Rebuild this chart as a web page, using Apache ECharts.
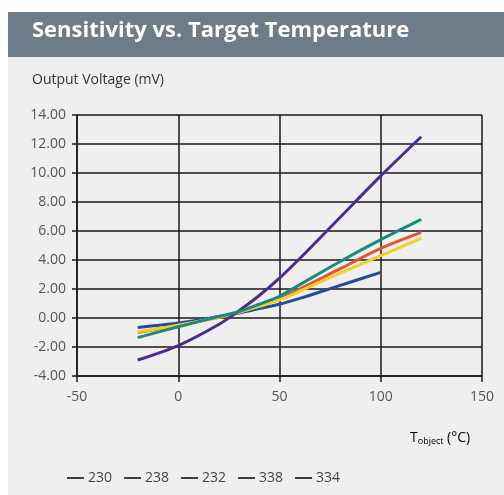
<!DOCTYPE html>
<html><head><meta charset="utf-8">
<script src="https://cdn.jsdelivr.net/npm/echarts@6/dist/echarts.min.js"></script>
<style>html,body{margin:0;padding:0;background:#fff}#c{width:504px;height:495px}</style>
</head><body><div id="c"></div>
<script>
const temps = [-20, 0, 20, 30, 40, 50, 60, 80, 100, 120];
const s230 = [-0.65, -0.35, 0.1, 0.35, 0.65, 0.95, 1.35, 2.25, 3.15, null];
const s238 = [-1.0, -0.5, 0.05, 0.4, 0.85, 1.35, 2.0, 3.4, 4.8, 5.9];
const s232 = [-0.95, -0.5, 0.05, 0.4, 0.8, 1.25, 1.85, 3.1, 4.3, 5.5];
const s338 = [-2.9, -1.9, -0.45, 0.5, 1.55, 2.75, 4.1, 6.95, 9.8, 12.5];
const s334 = [-1.35, -0.6, 0.1, 0.45, 0.95, 1.5, 2.3, 3.9, 5.4, 6.8];
const seriesNames = ['230', '238', '232', '338', '334'];
const seriesColors = ['#1f4f9c', '#e2572b', '#f2cf2a', '#4e2c8c', '#1a8a7c'];
const seriesData = [s230, s238, s232, s338, s334];

const font = "'Open Sans', 'Liberation Sans', sans-serif";
const chart = echarts.init(document.getElementById('c'));
chart.setOption({
  backgroundColor: '#ffffff',
  animation: false,
  graphic: [
    {type: 'rect', shape: {x: 8, y: 57, width: 496, height: 438}, style: {fill: '#efefef'}, z: -10},
    {type: 'rect', shape: {x: 8, y: 12, width: 496, height: 45}, style: {fill: '#6e7b88'}, z: -10},
    {type: 'text', left: 32, top: 20, style: {text: 'Sensitivity vs. Target Temperature', fill: '#ffffff', font: "bold 22px " + font}},
    {type: 'text', left: 32, top: 73, style: {text: 'Output Voltage (mV)', fill: '#333333', font: "14px " + font}},
    {type: 'text', left: 410, top: 431, style: {
      text: '{a|T}{b|object}{a| (°C)}',
      rich: {a: {fontSize: 14, fontFamily: font, color: '#333333'},
             b: {fontSize: 9, fontFamily: font, color: '#333333', padding: [6, 0, 0, 0]}}
    }}
  ],
  legend: {
    left: 62, top: 466,
    itemWidth: 17, itemHeight: 2, itemGap: 12,
    icon: 'rect',
    textStyle: {fontFamily: font, fontSize: 14, color: '#444444', padding: [0, 0, 0, -1]},
    data: seriesNames.map(n => ({name: n, itemStyle: {color: '#3a3f46'}}))
  },
  grid: {left: 77, right: 22, top: 115, bottom: 119},
  xAxis: {
    type: 'value', min: -50, max: 150, interval: 50,
    axisLine: {show: true, onZero: false, lineStyle: {color: '#1a1a1a', width: 1.5}},
    axisTick: {show: true, length: 6, lineStyle: {color: '#1a1a1a', width: 1.5}},
    splitLine: {show: true, lineStyle: {color: '#1a1a1a', width: 1.5}},
    axisLabel: {color: '#555555', fontFamily: font, fontSize: 14, margin: 14}
  },
  yAxis: {
    type: 'value', min: -4, max: 14, interval: 2,
    axisLine: {show: true, onZero: false, lineStyle: {color: '#1a1a1a', width: 1.5}},
    axisTick: {show: true, length: 5, lineStyle: {color: '#1a1a1a', width: 1.5}},
    splitLine: {show: true, lineStyle: {color: '#1a1a1a', width: 1.5}},
    axisLabel: {color: '#555555', fontFamily: font, fontSize: 14, margin: 11, formatter: v => v.toFixed(2)}
  },
  series: seriesNames.map((n, i) => ({
    name: n, type: 'line', smooth: 0.3, showSymbol: false,
    color: seriesColors[i],
    lineStyle: {width: 3, color: seriesColors[i]},
    data: temps.map((t, k) => seriesData[i][k] == null ? null : [t, seriesData[i][k]]).filter(p => p),
    z: 2 + i
  }))
});
</script></body></html>
